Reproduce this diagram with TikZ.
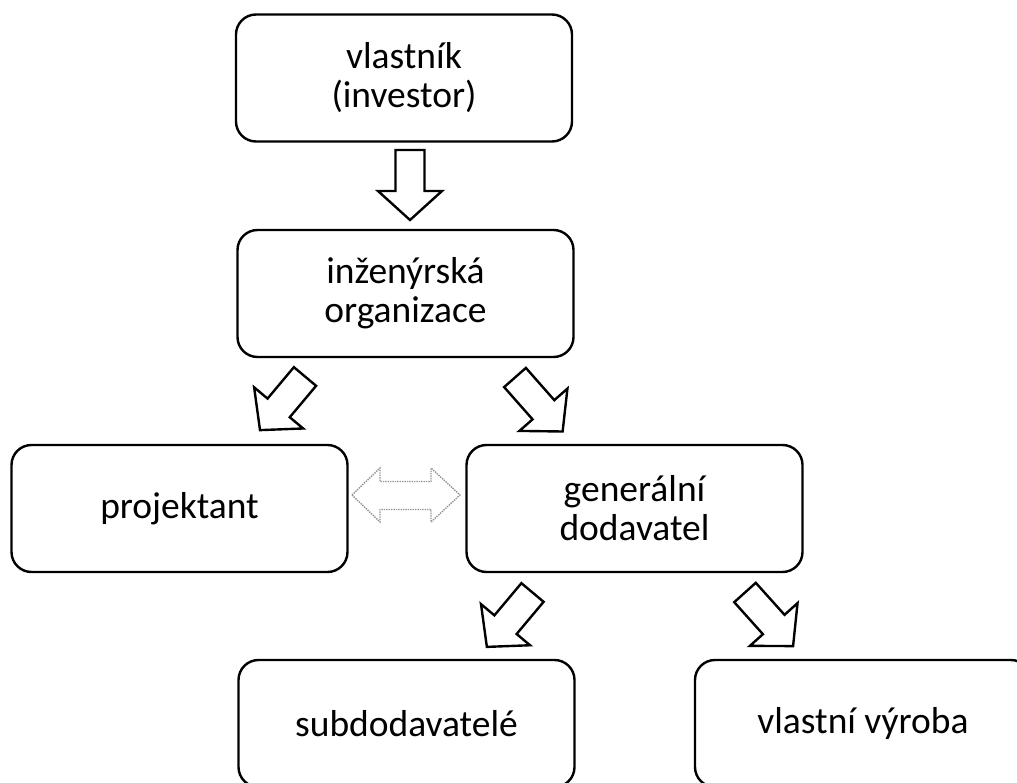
\documentclass[tikz,border=0pt]{standalone}
\usepackage{fontspec}
\setmainfont{Carlito}
\newcommand{\blockarr}[4]{% x, y of tail centre, angle, length
  \draw[blk, shift={(#1,#2)}, rotate=#3]
    (0,-14.5) -- ({#4-29},-14.5) -- ({#4-29},-32) -- (#4,0)
    -- ({#4-29},32) -- ({#4-29},14.5) -- (0,14.5) -- cycle;}
\begin{document}
\begin{tikzpicture}[x=1pt,y=-1pt,
  box/.style={draw, line width=2.4pt, rounded corners=20pt, minimum width=336pt,
    minimum height=127pt, align=center, inner sep=0pt,
    font=\fontsize{37.5}{39}\selectfont},
  blk/.style={draw, line width=2.4pt, fill=white, line join=miter},
  dbl/.style={draw=gray!85, densely dotted, line width=1.4pt}]
\useasboundingbox (0,0) rectangle (1017,783);
\clip (0,0) rectangle (1017,783);

\node[box] (own) at (404,78) {vlastník\\(investor)};
\node[box] (ing) at (405.5,293.5) {inženýrská\\organizace};
\node[box] (proj) at (179.5,508.5) {projektant};
\node[box] (gen) at (634.5,508.5) {generální\\dodavatel};
\node[box] (sub) at (406.5,723.5) {subdodavatelé};
\node[box] (vyr) at (863,723.5) {vlastní výroba};

% block arrows
\blockarr{410}{150}{-90}{70}
\blockarr{305}{376.5}{-130}{70}
\blockarr{515}{377.5}{-48.6}{72}
\blockarr{532.5}{592.5}{-130}{71}
\blockarr{745}{592.5}{-48.1}{72}

% dotted double arrow between projektant and generalni dodavatel
\draw[dbl] (352,495) -- (380,468) -- (380,481.5) -- (431,481.5) -- (431,468)
  -- (460,495) -- (431,522) -- (431,509.5) -- (380,509.5) -- (380,522) -- cycle;
\end{tikzpicture}
\end{document}
